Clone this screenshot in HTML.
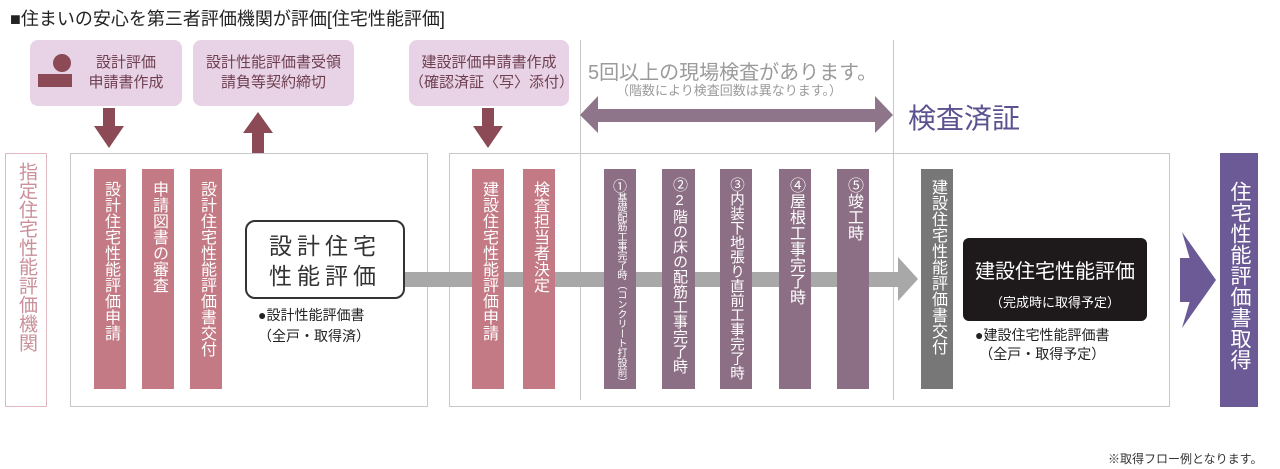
<!DOCTYPE html>
<html><head><meta charset="utf-8"><style>
body{margin:0;width:1280px;height:469px;background:#fff;position:relative;overflow:hidden;font-family:"Liberation Sans","Noto Sans CJK JP",sans-serif;}
.a{position:absolute;}
.pk{background:#e8d3e6;border-radius:8px;color:#6e3f50;font-size:15px;line-height:20px;text-align:center;display:flex;align-items:center;justify-content:center;}
.v{writing-mode:vertical-rl;text-orientation:upright;color:#fff;display:block;box-sizing:border-box;padding-top:12px;overflow:hidden;}
.r{background:#c47a84;font-size:16px;line-height:32px;}
.p{background:#8c6f85;font-size:16px;line-height:32px;}
.box{border:1px solid #c8c8c8;box-sizing:border-box;}
</style></head><body>
<div class="a" style="left:10px;top:5px;font-size:18px;color:#222;">■住まいの安心を第三者評価機関が評価[住宅性能評価]</div>

<div class="a pk" style="left:30px;top:40px;width:152px;height:66px;padding-left:40px;box-sizing:border-box;">設計評価<br>申請書作成</div>
<div class="a" style="left:53px;top:54px;width:18px;height:18px;border-radius:50%;background:#8b4a55;"></div>
<div class="a" style="left:38px;top:74px;width:34px;height:13px;background:#8b4a55;"></div>
<div class="a pk" style="left:193px;top:40px;width:161px;height:66px;">設計性能評価書受領<br>請負等契約締切</div>
<div class="a pk" style="left:409px;top:40px;width:160px;height:66px;">建設評価申請書作成<br>（確認済証〈写〉添付）</div>

<svg class="a" style="left:0;top:0" width="1280" height="469">
<g fill="#8b4a55">
<polygon points="103,108 115,108 115,126 124,126 109,148 94,126 103,126"/>
<polygon points="252,153 264,153 264,133 273,133 258,112 243,133 252,133"/>
<polygon points="482,108 494,108 494,126 503,126 488,148 473,126 482,126"/>
</g>
<line x1="580.5" y1="40" x2="580.5" y2="400" stroke="#c8c8c8"/>
<line x1="893.5" y1="40" x2="893.5" y2="400" stroke="#c8c8c8"/>
<polygon fill="#8e7589" points="580,115 598,96 598,109 875,109 875,96 893,115 875,133 875,122 598,122 598,133"/>
</svg>
<div class="a" style="left:588px;top:56px;font-size:20px;color:#9a9a9a;">5回以上の現場検査があります。</div>
<div class="a" style="left:616px;top:80px;font-size:13px;color:#9a9a9a;">（階数により検査回数は異なります。）</div>
<div class="a" style="left:908px;top:97px;font-size:28px;color:#5b5390;">検査済証</div>

<div class="a box" style="left:5px;top:153px;width:42px;height:254px;border-color:#e0b8c0;"></div>
<div class="a" style="left:5px;top:162px;width:42px;writing-mode:vertical-rl;text-orientation:upright;font-size:19px;line-height:42px;color:#c98f9a;">指定住宅性能評価機関</div>
<div class="a box" style="left:70px;top:153px;width:358px;height:254px;"></div>
<div class="a box" style="left:449px;top:153px;width:721px;height:254px;"></div>
<div class="a" style="left:580px;top:153px;width:1px;height:247px;background:#c8c8c8;"></div>
<div class="a" style="left:893px;top:153px;width:1px;height:247px;background:#c8c8c8;"></div>

<svg class="a" style="left:0;top:0" width="1280" height="469">
<rect x="405" y="272" width="495" height="15" fill="#a8a8a8"/>
<polygon fill="#a8a8a8" points="898,257 918,279 898,301"/>
<rect x="1180" y="258" width="16" height="44" fill="#6b5a95"/>
<polygon fill="#6b5a95" points="1182,232 1216,280 1182,328 1196,280"/>
</svg>

<div class="a v r" style="left:94px;top:169px;width:32px;height:220px;">設計住宅性能評価申請</div>
<div class="a v r" style="left:142px;top:169px;width:32px;height:220px;">申請図書の審査</div>
<div class="a v r" style="left:190px;top:169px;width:32px;height:220px;">設計住宅性能評価書交付</div>
<div class="a" style="left:245px;top:220px;width:160px;height:79px;border:2px solid #333;border-radius:10px;box-sizing:border-box;background:#fff;text-align:center;font-size:23px;line-height:30px;letter-spacing:5px;color:#333;padding-top:9px;">設計住宅<br>性能評価</div>
<div class="a" style="left:258px;top:305px;font-size:14px;line-height:21px;color:#222;">●設計性能評価書<br>（全戸・取得済）</div>

<div class="a v r" style="left:472px;top:169px;width:32px;height:220px;">建設住宅性能評価申請</div>
<div class="a v r" style="left:523px;top:169px;width:32px;height:220px;">検査担当者決定</div>
<div class="a v p" style="left:604px;top:169px;width:32px;height:220px;font-size:10px;padding-top:10px;letter-spacing:-0.3px;"><span style="font-size:14px">①</span>基礎配筋工事完了時（コンクリート打設前）</div>
<div class="a v p" style="left:662px;top:169px;width:33px;height:220px;font-size:15px;padding-top:8px;">②2階の床の配筋工事完了時</div>
<div class="a v p" style="left:720px;top:169px;width:32px;height:220px;font-size:14.5px;padding-top:8px;">③内装下地張り直前工事完了時</div>
<div class="a v p" style="left:779px;top:169px;width:32px;height:220px;font-size:16px;padding-top:8px;">④屋根工事完了時</div>
<div class="a v p" style="left:837px;top:169px;width:32px;height:220px;font-size:16px;padding-top:8px;">⑤竣工時</div>
<div class="a v" style="left:921px;top:169px;width:32px;height:220px;background:#777;font-size:16px;line-height:32px;padding-top:10px;">建設住宅性能評価書交付</div>

<div class="a" style="left:963px;top:238px;width:184px;height:83px;background:#1e1a1b;border-radius:6px;color:#fff;text-align:center;">
<div style="font-size:20px;margin-top:17px;">建設住宅性能評価</div>
<div style="font-size:13px;margin-top:8px;">（完成時に取得予定）</div></div>
<div class="a" style="left:975px;top:326px;font-size:14px;line-height:19px;color:#222;text-align:center;">●建設住宅性能評価書<br>（全戸・取得予定）</div>

<div class="a v" style="left:1220px;top:153px;width:38px;height:254px;background:#6b5a95;font-size:21px;line-height:38px;padding-top:28px;">住宅性能評価書取得</div>

<div class="a" style="left:1108px;top:450px;font-size:12px;color:#333;">※取得フロー例となります。</div>
</body></html>
